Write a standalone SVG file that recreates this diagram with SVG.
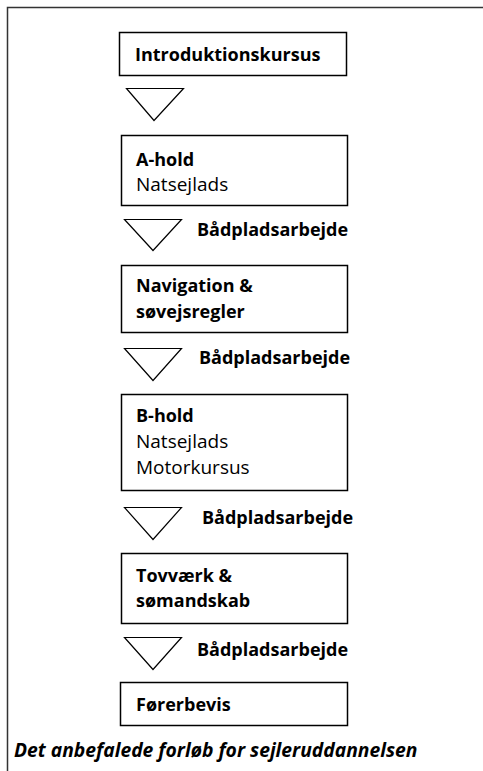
<svg xmlns="http://www.w3.org/2000/svg" width="483" height="771" viewBox="0 0 483 771">
<style>
.box{fill:#fff;stroke:#000;stroke-width:1.5}
.tri{fill:none;stroke:#000;stroke-width:1.2}
text{font-family:"Open Sans","Noto Sans",sans-serif;font-size:19px;fill:#000}
.b{font-weight:bold;font-size:18px}
.cap{font-weight:bold;font-style:italic;font-size:19.3px}
</style>
<rect width="483" height="771" fill="#fff"/>
<path d="M7.5,771 V7.5 H483" fill="none" stroke="#333" stroke-width="1.5"/>
<g id="n1"><rect class="box" x="119.5" y="32.5" width="227" height="43"/><text class="b" x="135" y="61">Introduktionskursus</text></g>
<g id="n2"><rect class="box" x="121.5" y="135.5" width="226" height="70"/><text class="b" x="136" y="166">A-hold</text><text x="136" y="191">Natsejlads</text></g>
<g id="n3"><rect class="box" x="121.5" y="265.5" width="226" height="67"/><text class="b" x="136" y="292">Navigation &amp;</text><text class="b" x="136" y="318">søvejsregler</text></g>
<g id="n4"><rect class="box" x="121.5" y="394.5" width="226" height="96"/><text class="b" x="136" y="422">B-hold</text><text x="136" y="448">Natsejlads</text><text x="136" y="474">Motorkursus</text></g>
<g id="n5"><rect class="box" x="121.5" y="553.5" width="226" height="70"/><text class="b" x="136" y="582">Tovværk &amp;</text><text class="b" x="136" y="607">sømandskab</text></g>
<g id="n6"><rect class="box" x="120.5" y="682.5" width="227" height="43"/><text class="b" x="136" y="711">Førerbevis</text></g>
<g id="connectors">
<polygon class="tri" points="126.5,88.5 183.5,88.5 154,120.5"/>
<polygon class="tri" points="124.5,219.5 181.5,219.5 153,250.5"/>
<polygon class="tri" points="124.5,348.5 181.5,348.5 153,380.5"/>
<polygon class="tri" points="124.5,507.5 181.5,507.5 153,539.5"/>
<polygon class="tri" points="124.5,637.5 181.5,637.5 153,669.5"/>
<text class="b" x="197" y="236">Bådpladsarbejde</text>
<text class="b" x="199" y="364">Bådpladsarbejde</text>
<text class="b" x="202" y="524">Bådpladsarbejde</text>
<text class="b" x="197" y="656">Bådpladsarbejde</text>
</g>
<text class="cap" x="14" y="757">Det anbefalede forløb for sejleruddannelsen</text>
</svg>
